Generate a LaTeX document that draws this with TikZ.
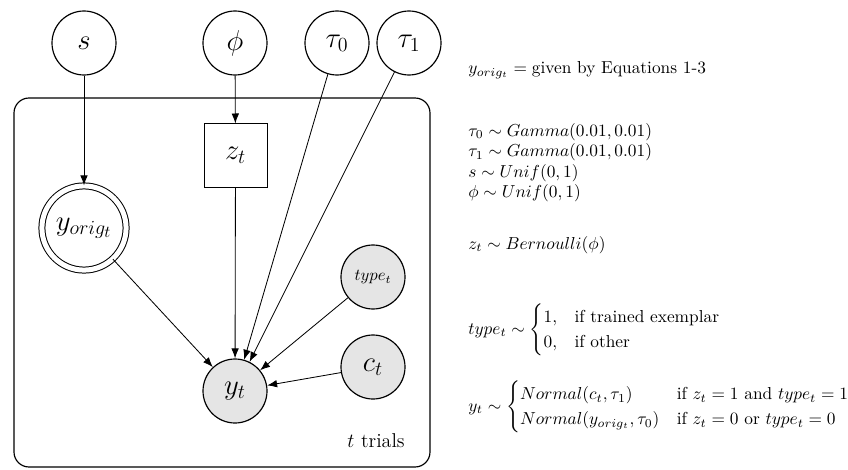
\documentclass[tikz,border=0pt]{standalone}
\usepackage{amsmath}
\usetikzlibrary{arrows.meta}
\definecolor{obsgray}{gray}{0.9}
\tikzset{
  big/.style={font=\LARGE},
  rv/.style={circle, draw, line width=0.7pt, minimum size=38.4pt, inner sep=0pt, big},
  obs/.style={rv, fill=obsgray},
  det/.style={circle, draw, line width=0.6pt, double, double distance=3pt, minimum size=50.5pt, inner sep=0pt, big},
  sq/.style={rectangle, draw, line width=0.6pt, minimum size=37.8pt, inner sep=0pt, big},
  edge/.style={-{Latex[length=6pt,width=4.5pt]}, line width=0.5pt},
  eqn/.style={anchor=west, inner sep=0pt, font=\normalsize, scale=1.04, transform shape}
}
\begin{document}
\begin{tikzpicture}[x=0.6pt,y=-0.6pt]
\useasboundingbox (0,0) rectangle (848,469);
% plate
\draw[line width=0.7pt, rounded corners=9pt] (14,98) rectangle (430,467);
\node[anchor=base east, inner sep=0pt, font=\large] (plate) at (405,447) {$t$ trials};
% nodes
\node[rv] (s) at (84,43) {$s$};
\node[rv] (phi) at (235,43) {$\phi$};
\node[rv] (tau0) at (337,43) {$\tau_0$};
\node[rv] (tau1) at (409,43) {$\tau_1$};
\node[sq] (z) at (235.5,155.5) {$z_t$};
\node[det] (yorig) at (84,228) {$y_{orig_t}$};
\node[obs, font=\normalsize] (type) at (373,277) {$type_t$};
\node[obs] (c) at (373,367) {$c_t$};
\node[obs] (y) at (235,391) {$y_t$};
% edges
\draw[edge] (s) -- (yorig);
\draw[edge] (phi) -- (z);
\draw[edge] (z) -- (y);
\draw[edge] (tau0) -- (y);
\draw[edge] (tau1) -- (y);
\draw[edge] (yorig) -- (y);
\draw[edge] (type) -- (y);
\draw[edge] (c) -- (y);
% equations
\node[eqn] (e1) at (468,70) {$y_{orig_t} = \text{given by Equations 1-3}$};
\node[eqn] (e2) at (468,132) {$\tau_0 \sim Gamma(0.01, 0.01)$};
\node[eqn] (e3) at (468,152.5) {$\tau_1 \sim Gamma(0.01, 0.01)$};
\node[eqn] (e4) at (468,173) {$s \sim Unif(0, 1)$};
\node[eqn] (e5) at (468,193.5) {$\phi \sim Unif(0, 1)$};
\node[eqn] (e6) at (468,245) {$z_t \sim Bernoulli(\phi)$};
\node[eqn] (e7) at (468,330) {$type_t \sim \begin{cases} 1, & \text{if trained exemplar}\\ 0, & \text{if other}\end{cases}$};
\node[eqn] (e8) at (468,407) {$y_t \sim \begin{cases} Normal(c_t, \tau_1) & \text{if } z_t = 1 \text{ and } type_t = 1\\ Normal(y_{orig_t}, \tau_0) & \text{if } z_t = 0 \text{ or } type_t = 0\end{cases}$};
\end{tikzpicture}
\end{document}
